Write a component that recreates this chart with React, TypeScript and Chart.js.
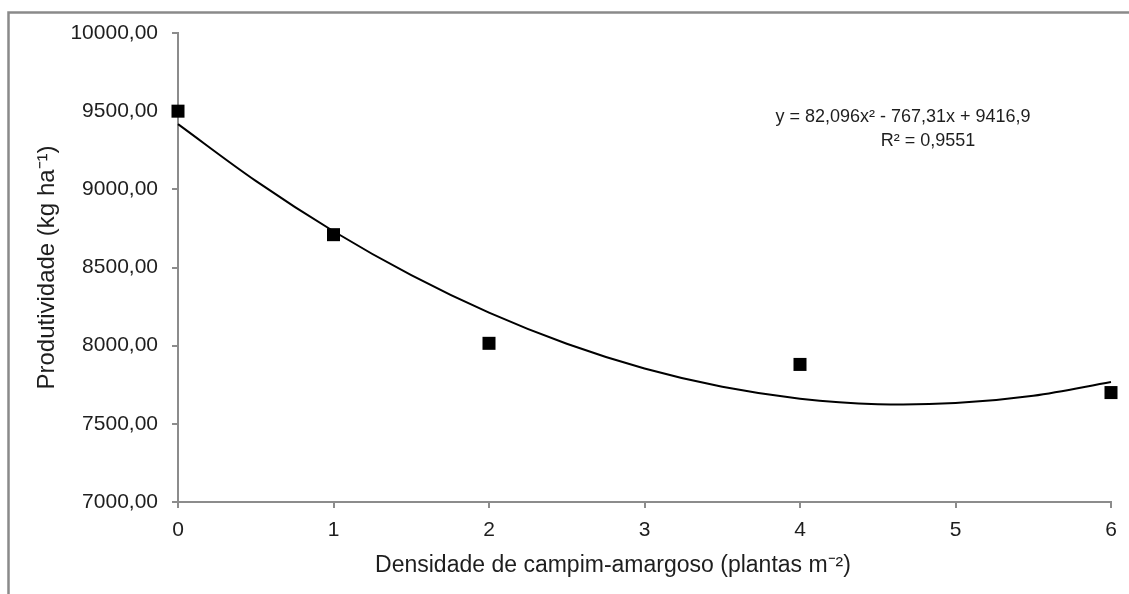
import React, { useEffect, useRef } from "react";
import { Chart, registerables } from "chart.js";

Chart.register(...registerables);

// Observed data (density of campim-amargoso vs. productivity)
const densities = [0, 1, 2, 4, 6];
const productivity = [9500, 8710, 8015, 7880, 7700];

// Trend line at half-unit steps
const trendX = [0, 0.5, 1, 1.5, 2, 2.5, 3, 3.5, 4, 4.5, 5, 5.5, 6];
const trendY = [9417, 9054, 8732, 8451, 8211, 8012, 7854, 7737, 7661, 7626, 7633, 7680, 7768];

const xTickLabels = ["0", "1", "2", "3", "4", "5", "6"];
const yTickValues = [7000, 7500, 8000, 8500, 9000, 9500, 10000];
const yTickLabels = ["7000,00", "7500,00", "8000,00", "8500,00", "9000,00", "9500,00", "10000,00"];

const equationText = "y = 82,096x² - 767,31x + 9416,9";
const r2Text = "R² = 0,9551";
const xTitle = "Densidade de campim-amargoso (plantas m⁻²)";
const yTitle = "Produtividade (kg ha⁻¹)";

const FONT = '"Liberation Sans", Arial, Helvetica, sans-serif';
const TEXT = "#1e1e1e";
const AXIS = "#8c8c8c";

export default function App() {
  const ref = useRef<HTMLCanvasElement | null>(null);

  useEffect(() => {
    if (!ref.current) return;

    const decor = {
      id: "decor",
      beforeDraw(chart: any) {
        const ctx = chart.ctx;
        ctx.save();
        ctx.strokeStyle = "#8a8a8a";
        ctx.lineWidth = 2.5;
        ctx.beginPath();
        ctx.moveTo(8.5, 594);
        ctx.lineTo(8.5, 12.5);
        ctx.lineTo(1129, 12.5);
        ctx.stroke();
        ctx.restore();
      },
      afterDraw(chart: any) {
        const ctx = chart.ctx;
        ctx.save();
        ctx.fillStyle = TEXT;
        ctx.textAlign = "center";
        ctx.textBaseline = "middle";
        ctx.font = `18px ${FONT}`;
        ctx.fillText(equationText, 903, 117);
        ctx.fillText(r2Text, 928, 141);
        ctx.font = `23px ${FONT}`;
        ctx.fillText(xTitle, 613, 566);
        ctx.restore();
      },
    };

    const chart = new Chart(ref.current, {
      type: "scatter",
      data: {
        datasets: [
          {
            label: "pontos",
            data: densities.map((x, i) => ({ x, y: productivity[i] })),
            pointStyle: "rect",
            pointRadius: 9.2,
            pointHoverRadius: 9.2,
            backgroundColor: "#000",
            borderColor: "#000",
            borderWidth: 0,
            showLine: false,
            clip: false as any,
            order: 0,
          },
          {
            label: "tendência",
            data: trendX.map((x, i) => ({ x, y: trendY[i] })),
            showLine: true,
            pointRadius: 0,
            borderColor: "#000",
            borderWidth: 2,
            tension: 0.35,
            fill: false,
            clip: false as any,
            order: 1,
          },
        ],
      },
      options: {
        animation: false,
        responsive: true,
        maintainAspectRatio: false,
        layout: { padding: { top: 33, right: 18, left: 0, bottom: 0 } },
        plugins: {
          legend: { display: false },
          tooltip: { enabled: false },
        },
        scales: {
          x: {
            type: "linear",
            min: 0,
            max: 6,
            afterFit(scale: any) {
              scale.height = 92;
            },
            afterBuildTicks(scale: any) {
              scale.ticks = xTickLabels.map((_, i) => ({ value: i }));
            },
            ticks: {
              stepSize: 1,
              padding: 10,
              color: TEXT,
              font: { family: FONT, size: 21 },
              callback: (v: any) => xTickLabels[Math.round(Number(v))] ?? "",
            },
            grid: {
              display: true,
              drawOnChartArea: false,
              drawTicks: true,
              tickLength: 6,
              color: AXIS,
              lineWidth: 2,
            },
            border: { display: true, color: AXIS, width: 2 },
          },
          y: {
            type: "linear",
            min: 7000,
            max: 10000,
            afterFit(scale: any) {
              scale.width = 178;
            },
            afterBuildTicks(scale: any) {
              scale.ticks = yTickValues.map((v) => ({ value: v }));
            },
            ticks: {
              stepSize: 500,
              padding: 14,
              color: TEXT,
              font: { family: FONT, size: 21 },
              callback: (v: any) => {
                const i = yTickValues.indexOf(Number(v));
                return i >= 0 ? yTickLabels[i] : "";
              },
            },
            title: {
              display: true,
              text: yTitle,
              color: TEXT,
              font: { family: FONT, size: 24 },
              padding: { top: 33, bottom: 0 },
            },
            grid: {
              display: true,
              drawOnChartArea: false,
              drawTicks: true,
              tickLength: 6,
              color: AXIS,
              lineWidth: 2,
            },
            border: { display: true, color: AXIS, width: 2 },
          },
        },
      },
      plugins: [decor],
    } as any);

    return () => chart.destroy();
  }, []);

  return (
    <div style={{ position: "fixed", left: 0, top: 0, width: 1129, height: 594, background: "#fff" }}>
      <canvas ref={ref} />
    </div>
  );
}
